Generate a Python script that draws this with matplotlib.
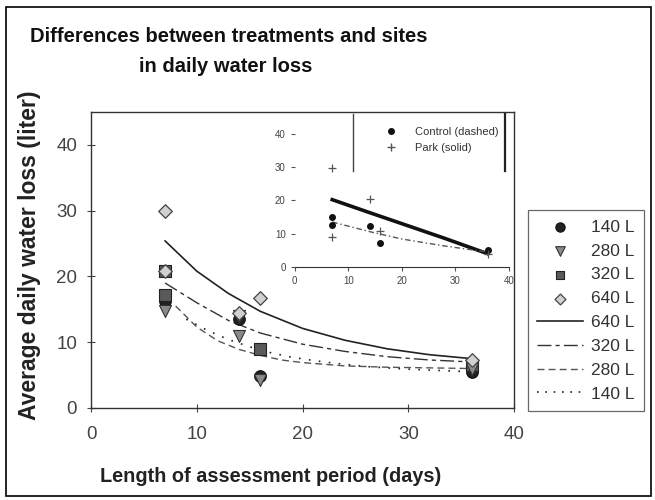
import matplotlib
matplotlib.use("Agg")
import matplotlib.pyplot as plt
from matplotlib.lines import Line2D
from matplotlib.patches import Rectangle
import numpy as np

plt.rcParams['font.family'] = ['Liberation Sans', 'DejaVu Sans']

# ---------------- data (main panel) ----------------
x140 = [7, 14, 16, 36]
y140 = [16.2, 13.5, 4.9, 5.5]
x280 = [7, 14, 14, 16, 36]
y280 = [14.8, 11.0, 14.0, 4.2, 6.0]
x320 = [7, 7, 16, 36]
y320 = [17.2, 20.8, 9.0, 6.5]
x640 = [7, 7, 14, 16, 36]
y640 = [30.0, 20.8, 14.5, 16.7, 7.3]

# fitted curves
cx640 = [7, 10, 13, 16, 20, 24, 28, 32, 36]
cy640 = [25.4, 20.8, 17.4, 14.7, 12.1, 10.3, 9.0, 8.1, 7.5]
cx320 = [7, 10, 13, 16, 20, 24, 28, 32, 36]
cy320 = [19.0, 16.0, 13.3, 11.4, 9.7, 8.6, 7.8, 7.3, 7.0]
cx280 = [8, 10, 12, 14, 16, 18, 20, 24, 28, 32, 36]
cy280 = [15.5, 12.3, 10.2, 8.9, 8.0, 7.3, 6.9, 6.4, 6.2, 6.1, 6.0]
cx140 = [9, 11, 13, 15, 17, 19, 22, 26, 30, 36]
cy140 = [13.5, 11.8, 10.4, 9.3, 8.4, 7.7, 7.0, 6.3, 5.9, 5.5]

# ---------------- data (inset) ----------------
ctrl_x = [7, 7, 14, 16, 36]
ctrl_y = [15.0, 12.5, 12.2, 7.3, 5.1]
park_x = [7, 7, 14, 16, 36]
park_y = [29.8, 9.1, 20.3, 10.7, 4.0]
park_lx = [7, 14, 20, 28, 36]
park_ly = [20.2, 16.3, 13.0, 8.6, 4.0]
ctrl_lx = [7, 14, 20, 28, 36]
ctrl_ly = [13.5, 10.6, 8.4, 6.3, 4.5]

ticks = [0, 10, 20, 30, 40]

fig = plt.figure(figsize=(6.55, 5.0), dpi=100)

# outer frame
fig.patches.append(Rectangle((0.009, 0.008), 0.985, 0.978, transform=fig.transFigure,
                             fill=False, edgecolor='black', linewidth=1.2))

fig.text(0.35, 0.928, "Differences between treatments and sites", ha='center', va='center',
         fontsize=14.5, fontweight='bold', color='#111111')
fig.text(0.345, 0.868, "in daily water loss", ha='center', va='center',
         fontsize=14.5, fontweight='bold', color='#111111')

ax = fig.add_axes([0.139, 0.184, 0.646, 0.592])
ax.set_xlim(0, 40)
ax.set_ylim(0, 45)
ax.set_xticks(ticks)
ax.set_yticks(ticks)
ax.tick_params(direction='inout', length=6, labelsize=13.5, colors='#444444', labelcolor='#444444')
ax.tick_params(axis='x', pad=10)
ax.tick_params(axis='y', pad=7)
for s in ax.spines.values():
    s.set_color('#333333')
    s.set_linewidth(1.0)

ax.plot(cx640, cy640, '-', color='#222222', lw=1.2, label='640 L', zorder=2)
ax.plot(cx320, cy320, color='#333333', lw=1.0, dashes=(10, 3, 3, 3), label='320 L', zorder=2)
ax.plot(cx280, cy280, color='#555555', lw=1.0, dashes=(5, 3), label='280 L', zorder=2)
ax.plot(cx140, cy140, color='#222222', lw=1.2, dashes=(1, 5), label='140 L', zorder=2)

h140 = ax.scatter(x140, y140, marker='o', s=70, facecolor='#222222', edgecolor='#111111', lw=0.8, zorder=4)
h280 = ax.scatter(x280, y280, marker='v', s=75, facecolor='#8a8a8a', edgecolor='#333333', lw=0.8, zorder=5)
h320 = ax.scatter(x320, y320, marker='s', s=65, facecolor='#5a5a5a', edgecolor='#222222', lw=0.8, zorder=4)
h640 = ax.scatter(x640, y640, marker='D', s=48, facecolor='#d0d0d0', edgecolor='#444444', lw=0.9, zorder=6)

ax.set_xlabel("Length of assessment period (days)", fontsize=14.3, fontweight='bold',
              color='#222222')
ax.xaxis.set_label_coords(0.425, -0.198)
ax.set_ylabel("Average daily water loss (liter)", fontsize=16.5, fontweight='bold',
              color='#222222')
ax.yaxis.set_label_coords(-0.118, 0.515)

line_handles = [Line2D([], [], color='#222222', lw=1.2),
                Line2D([], [], color='#333333', lw=1.0, dashes=(10, 3, 3, 3)),
                Line2D([], [], color='#555555', lw=1.0, dashes=(5, 3)),
                Line2D([], [], color='#222222', lw=1.2, dashes=(1, 4))]
handles = [h140, h280, h320, h640] + line_handles
labels = ['140 L', '280 L', '320 L', '640 L', '640 L', '320 L', '280 L', '140 L']
leg = fig.legend(handles, labels, loc='upper left', bbox_to_anchor=(0.806, 0.58),
                 borderaxespad=0, markerscale=0.8,
                 fontsize=12.5, frameon=True, fancybox=False, edgecolor='#444444',
                 handlelength=2.6, handletextpad=0.5, labelspacing=0.5, borderpad=0.55,
                 labelcolor='#333333')
leg.get_frame().set_linewidth(0.9)

# ---------------- inset ----------------
ins = fig.add_axes([0.450, 0.466, 0.327, 0.300])
ins.set_xlim(0, 40)
ins.set_ylim(0, 45)
ins.set_xticks(ticks)
ins.set_yticks(ticks)
for k in ['left', 'top', 'right']:
    ins.spines[k].set_visible(False)
ins.spines['bottom'].set_color('#333333')
ins.tick_params(direction='out', length=3, labelsize=7, colors='#555555', labelcolor='#444444')
ins.patch.set_facecolor('white')

ins.plot(park_lx, park_ly, '-', color='#111111', lw=2.6)
ins.plot(ctrl_lx, ctrl_ly, color='#555555', lw=1.0, dashes=(4, 2, 1, 2))
ins.scatter(ctrl_x, ctrl_y, marker='o', s=16, color='#111111', zorder=4)
ins.scatter(park_x, park_y, marker='+', s=28, color='#555555', linewidths=0.9, zorder=4)

il = ins.legend([Line2D([], [], ls='none', marker='o', ms=4, color='#111111'),
                 Line2D([], [], ls='none', marker='+', ms=6, color='#555555')],
                ['Control (dashed)', 'Park (solid)'], loc='upper right',
                bbox_to_anchor=(1.0, 1.0), fontsize=8, frameon=False,
                labelcolor='#333333', handletextpad=1.2, borderpad=0.4)
# partial frame lines of inset legend
fig.add_artist(Line2D([0.539, 0.539], [0.658, 0.772], color='#444444', lw=1.0, transform=fig.transFigure))
fig.add_artist(Line2D([0.771, 0.771], [0.658, 0.772], color='#222222', lw=1.6, transform=fig.transFigure))

fig.savefig("out.png", dpi=100)
